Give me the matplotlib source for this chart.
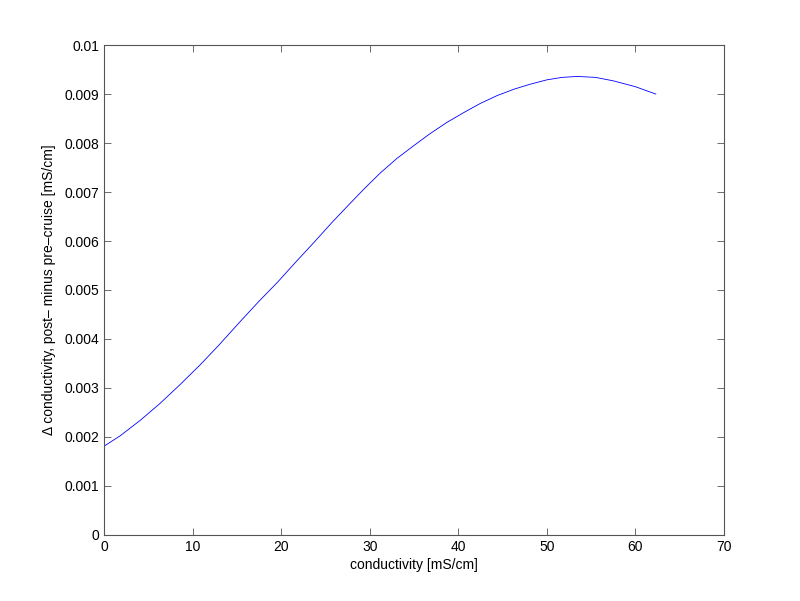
import matplotlib
matplotlib.use('Agg')
import matplotlib.pyplot as plt

plt.rcParams['font.family'] = ['Liberation Sans', 'DejaVu Sans']

# values
conductivity = [0.0, 1.8, 4.1, 6.3, 8.6, 10.9, 13.0, 15.4, 17.5, 19.6, 21.6, 23.7,
                25.8, 27.8, 29.4, 31.2, 33.1, 35.0, 36.8, 38.7, 40.6, 42.5, 44.4,
                46.3, 48.1, 50.0, 51.7, 53.4, 55.5, 57.5, 60.0, 62.3]
delta_cond = [0.00181, 0.00202, 0.00234, 0.00268, 0.00307, 0.00348, 0.00388, 0.00436,
              0.00477, 0.00516, 0.00556, 0.00597, 0.00639, 0.00677, 0.00707, 0.00739,
              0.00769, 0.00795, 0.00819, 0.00842, 0.00862, 0.00881, 0.00897, 0.00910,
              0.00920, 0.00929, 0.00934, 0.00936, 0.00934, 0.00927, 0.00915, 0.00900]

x_ticks = [0, 10, 20, 30, 40, 50, 60, 70]
y_ticks = [0, 0.001, 0.002, 0.003, 0.004, 0.005, 0.006, 0.007, 0.008, 0.009, 0.01]
y_tick_labels = ['0', '0.001', '0.002', '0.003', '0.004', '0.005', '0.006',
                 '0.007', '0.008', '0.009', '0.01']

fig = plt.figure(figsize=(8, 6.01), dpi=100)
ax = fig.add_axes([0.13, 0.11, 0.775, 0.815])

ax.plot(conductivity, delta_cond, '-', color=(0, 0, 1), linewidth=0.6)

ax.set_xlim(0, 70)
ax.set_ylim(0, 0.01)
ax.set_xticks(x_ticks)
ax.set_yticks(y_ticks)
ax.set_yticklabels(y_tick_labels)

ax.tick_params(direction='in', top=True, right=True, length=5, width=0.6,
               colors='#555555', labelcolor='black', labelsize=10)
for spine in ax.spines.values():
    spine.set_color('#555555')
    spine.set_linewidth(0.8)

ax.set_xlabel('conductivity [mS/cm]', fontsize=10, labelpad=3)
ax.set_ylabel('\u0394 conductivity, post\u2013 minus pre\u2013cruise [mS/cm]', fontsize=10, labelpad=6)

plt.savefig('out.png', dpi=100)
